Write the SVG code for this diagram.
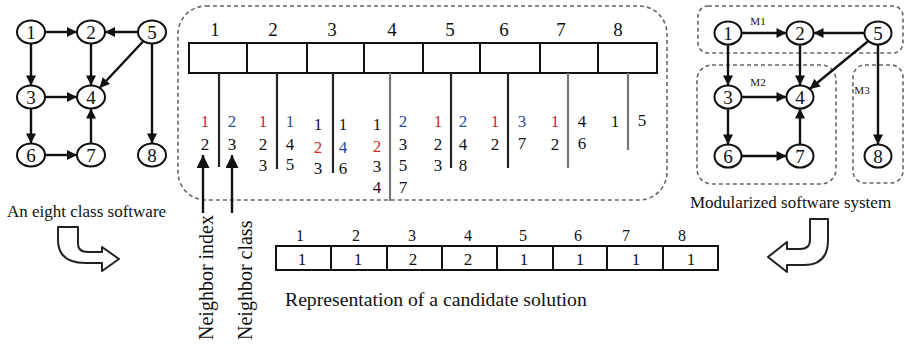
<svg xmlns="http://www.w3.org/2000/svg" width="907" height="345" viewBox="0 0 907 345">
  <style>
    text { font-family: "Liberation Serif", "Times New Roman", serif; fill: #111; }
    .node ellipse { fill: #fff; stroke: #111; stroke-width: 2; }
    .node text { font-size: 19px; text-anchor: middle; }
    .edge { stroke: #111; stroke-width: 2.4; fill: none; }
    .dash { fill: none; stroke: #666; stroke-width: 1.6; stroke-dasharray: 4 3; }
    .cell { fill: #fff; stroke: #111; stroke-width: 2; }
    .stem { stroke: #222; stroke-width: 2.2; }
    .stem2 { stroke: #777; stroke-width: 2.2; }
    .num { font-size: 17px; text-anchor: middle; }
    .hdr { font-size: 19px; text-anchor: middle; }
    .r { fill: #cc2b2b; }
    .b { fill: #2b4a9a; }
    .cap { font-size: 17px; }
    .turn { fill: #fff; stroke: #222; stroke-width: 2; stroke-linejoin: round; }
  </style>
  <defs>
    <marker id="ah" viewBox="0 0 10 10" refX="10" refY="5" markerWidth="11" markerHeight="10" markerUnits="userSpaceOnUse" orient="auto">
      <path d="M0,0 L10,5 L0,10 Z" fill="#111"/>
    </marker>
    <marker id="ahBig" viewBox="0 0 10 10" refX="10" refY="5" markerWidth="14" markerHeight="13" markerUnits="userSpaceOnUse" orient="auto">
      <path d="M0,0 L10,5 L0,10 Z" fill="#111"/>
    </marker>
  </defs>

  <!-- ===== Left: eight class software graph ===== -->
  <g id="left-edges">
    <line class="edge" x1="45" y1="32" x2="77" y2="32" marker-end="url(#ah)"/>
    <line class="edge" x1="138" y1="32" x2="105" y2="32" marker-end="url(#ah)"/>
    <line class="edge" x1="91" y1="43.5" x2="91" y2="85.5" marker-end="url(#ah)"/>
    <line class="edge" x1="31" y1="43.5" x2="31" y2="85.5" marker-end="url(#ah)"/>
    <line class="edge" x1="45" y1="97" x2="77" y2="97" marker-end="url(#ah)"/>
    <line class="edge" x1="31" y1="108.5" x2="31" y2="143.5" marker-end="url(#ah)"/>
    <line class="edge" x1="45" y1="155" x2="77" y2="155" marker-end="url(#ah)"/>
    <line class="edge" x1="91" y1="143.5" x2="91" y2="108.5" marker-end="url(#ah)"/>
    <line class="edge" x1="152" y1="43.5" x2="152" y2="143.5" marker-end="url(#ah)"/>
    <line class="edge" x1="143.5" y1="41" x2="99.5" y2="88" marker-end="url(#ah)"/>
  </g>
  <g id="left-n1" class="node"><ellipse cx="31" cy="32" rx="14" ry="11.5"/><text x="31" y="38.5">1</text></g>
  <g id="left-n2" class="node"><ellipse cx="91" cy="32" rx="14" ry="11.5"/><text x="91" y="38.5">2</text></g>
  <g id="left-n5" class="node"><ellipse cx="152" cy="32" rx="14" ry="11.5"/><text x="152" y="38.5">5</text></g>
  <g id="left-n3" class="node"><ellipse cx="31" cy="97" rx="14" ry="11.5"/><text x="31" y="103.5">3</text></g>
  <g id="left-n4" class="node"><ellipse cx="91" cy="97" rx="14" ry="11.5"/><text x="91" y="103.5">4</text></g>
  <g id="left-n6" class="node"><ellipse cx="31" cy="155" rx="14" ry="11.5"/><text x="31" y="161.5">6</text></g>
  <g id="left-n7" class="node"><ellipse cx="91" cy="155" rx="14" ry="11.5"/><text x="91" y="161.5">7</text></g>
  <g id="left-n8" class="node"><ellipse cx="152" cy="155" rx="14" ry="11.5"/><text x="152" y="161.5">8</text></g>
  <text class="cap" x="7" y="217">An eight class software</text>
  <path class="turn" d="M58,227 L78,227 L78,244 Q78,252 88,252 L102,252 L102,247 L119,259 L102,271 L102,263 L86,263 Q58,263 58,240 Z"/>

  <!-- ===== Middle: adjacency encoding ===== -->
  <g id="encoding">
    <rect class="dash" x="178" y="6" width="489" height="194" rx="28"/>
    <g id="enc-header">
      <text class="hdr" x="215" y="36">1</text>
      <text class="hdr" x="273" y="36">2</text>
      <text class="hdr" x="332" y="36">3</text>
      <text class="hdr" x="392" y="36">4</text>
      <text class="hdr" x="450" y="36">5</text>
      <text class="hdr" x="504" y="36">6</text>
      <text class="hdr" x="561" y="36">7</text>
      <text class="hdr" x="618" y="36">8</text>
    </g>
    <g id="enc-cells">
      <rect class="cell" x="189" y="43" width="58" height="30"/>
      <rect class="cell" x="247" y="43" width="60" height="30"/>
      <rect class="cell" x="307" y="43" width="57" height="30"/>
      <rect class="cell" x="364" y="43" width="59" height="30"/>
      <rect class="cell" x="423" y="43" width="57" height="30"/>
      <rect class="cell" x="480" y="43" width="60" height="30"/>
      <rect class="cell" x="540" y="43" width="58" height="30"/>
      <rect class="cell" x="598" y="43" width="59" height="30"/>
    </g>
    <g id="enc-stems">
      <line class="stem" x1="219" y1="73" x2="219" y2="167"/>
      <line class="stem" x1="277" y1="73" x2="277" y2="169"/>
      <line class="stem" x1="333" y1="73" x2="333" y2="173"/>
      <line class="stem2" x1="390" y1="73" x2="390" y2="201"/>
      <line class="stem" x1="451" y1="73" x2="451" y2="168"/>
      <line class="stem" x1="508" y1="73" x2="508" y2="168"/>
      <line class="stem2" x1="568" y1="73" x2="568" y2="168"/>
      <line class="stem2" x1="628" y1="73" x2="628" y2="150"/>
    </g>
    <g id="enc-lists">
      <!-- class 1 -->
      <text class="num r" x="205" y="127">1</text>
      <text class="num" x="205" y="150">2</text>
      <text class="num b" x="232" y="127">2</text>
      <text class="num" x="232" y="150">3</text>
      <!-- class 2 -->
      <text class="num r" x="263" y="127">1</text>
      <text class="num" x="263" y="150">2</text>
      <text class="num" x="263" y="171">3</text>
      <text class="num b" x="290" y="127">1</text>
      <text class="num" x="290" y="150">4</text>
      <text class="num" x="290" y="170">5</text>
      <!-- class 3 -->
      <text class="num" x="318" y="130">1</text>
      <text class="num r" x="318" y="153">2</text>
      <text class="num" x="318" y="174">3</text>
      <text class="num" x="343" y="130">1</text>
      <text class="num b" x="343" y="153">4</text>
      <text class="num" x="343" y="174">6</text>
      <!-- class 4 -->
      <text class="num" x="377" y="130">1</text>
      <text class="num r" x="377" y="152">2</text>
      <text class="num" x="377" y="172">3</text>
      <text class="num" x="377" y="193">4</text>
      <text class="num b" x="403" y="127">2</text>
      <text class="num" x="403" y="150">3</text>
      <text class="num" x="403" y="171">5</text>
      <text class="num" x="403" y="193">7</text>
      <!-- class 5 -->
      <text class="num r" x="438" y="127">1</text>
      <text class="num" x="438" y="150">2</text>
      <text class="num" x="438" y="171">3</text>
      <text class="num b" x="463" y="127">2</text>
      <text class="num" x="463" y="150">4</text>
      <text class="num" x="463" y="171">8</text>
      <!-- class 6 -->
      <text class="num r" x="495" y="127">1</text>
      <text class="num" x="495" y="150">2</text>
      <text class="num b" x="522" y="127">3</text>
      <text class="num" x="522" y="149">7</text>
      <!-- class 7 -->
      <text class="num r" x="555" y="127">1</text>
      <text class="num" x="555" y="150">2</text>
      <text class="num" x="582" y="127">4</text>
      <text class="num" x="582" y="149">6</text>
      <!-- class 8 -->
      <text class="num" x="615" y="127">1</text>
      <text class="num" x="642" y="126">5</text>
    </g>
  </g>

  <!-- pointers to the two lists -->
  <g id="pointers">
    <line class="edge" x1="203" y1="213" x2="203" y2="155" stroke-width="2.6" marker-end="url(#ahBig)"/>
    <line class="edge" x1="232" y1="213" x2="232" y2="155" stroke-width="2.6" marker-end="url(#ahBig)"/>
  </g>
  <text font-size="20" transform="translate(213,340) rotate(-90)">Neighbor index</text>
  <text font-size="20" transform="translate(252,340) rotate(-90)">Neighbor class</text>

  <!-- ===== Bottom: candidate solution ===== -->
  <g id="solution">
    <g font-size="16" text-anchor="middle">
      <text x="300" y="241">1</text>
      <text x="356" y="241">2</text>
      <text x="412" y="241">3</text>
      <text x="468" y="241">4</text>
      <text x="523" y="241">5</text>
      <text x="578" y="241">6</text>
      <text x="626" y="241">7</text>
      <text x="682" y="241">8</text>
    </g>
    <rect class="cell" x="276" y="246" width="55" height="24"/>
    <rect class="cell" x="331" y="246" width="56" height="24"/>
    <rect class="cell" x="387" y="246" width="55" height="24"/>
    <rect class="cell" x="442" y="246" width="55" height="24"/>
    <rect class="cell" x="497" y="246" width="56" height="24"/>
    <rect class="cell" x="553" y="246" width="54" height="24"/>
    <rect class="cell" x="607" y="246" width="56" height="24"/>
    <rect class="cell" x="663" y="246" width="55" height="24"/>
    <g font-size="17" text-anchor="middle">
      <text x="302" y="265">1</text>
      <text x="358" y="265">1</text>
      <text x="413" y="265">2</text>
      <text x="468" y="265">2</text>
      <text x="524" y="265">1</text>
      <text x="580" y="265">1</text>
      <text x="636" y="265">1</text>
      <text x="691" y="265">1</text>
    </g>
  </g>
  <text font-size="19.7" x="285" y="306">Representation of a candidate solution</text>

  <!-- ===== Right: modularized system ===== -->
  <g id="modules">
    <rect class="dash" x="698" y="6" width="205" height="47" rx="10"/>
    <rect class="dash" x="697" y="65" width="139" height="119" rx="15"/>
    <rect class="dash" x="853" y="65" width="50" height="118" rx="12"/>
    <text font-size="11" x="758" y="25" text-anchor="middle">M1</text>
    <text font-size="11" x="758" y="86" text-anchor="middle">M2</text>
    <text font-size="11" x="862" y="94" text-anchor="middle">M3</text>
  </g>
  <g id="right-edges">
    <line class="edge" x1="741.5" y1="33" x2="786.5" y2="33" marker-end="url(#ah)"/>
    <line class="edge" x1="864.5" y1="33" x2="813.5" y2="33" marker-end="url(#ah)"/>
    <line class="edge" x1="800" y1="44.5" x2="800" y2="85.5" marker-end="url(#ah)"/>
    <line class="edge" x1="728" y1="44.5" x2="728" y2="85.5" marker-end="url(#ah)"/>
    <line class="edge" x1="741.5" y1="97" x2="786.5" y2="97" marker-end="url(#ah)"/>
    <line class="edge" x1="728" y1="108.5" x2="728" y2="144.5" marker-end="url(#ah)"/>
    <line class="edge" x1="741.5" y1="156" x2="786.5" y2="156" marker-end="url(#ah)"/>
    <line class="edge" x1="800" y1="144.5" x2="800" y2="108.5" marker-end="url(#ah)"/>
    <line class="edge" x1="878" y1="44.5" x2="878" y2="144.5" marker-end="url(#ah)"/>
    <line class="edge" x1="868.3" y1="41" x2="809.7" y2="89" marker-end="url(#ah)"/>
  </g>
  <g id="right-n1" class="node"><ellipse cx="728" cy="33" rx="13.5" ry="11.5"/><text x="728" y="39.5">1</text></g>
  <g id="right-n2" class="node"><ellipse cx="800" cy="33" rx="13.5" ry="11.5"/><text x="800" y="39.5">2</text></g>
  <g id="right-n5" class="node"><ellipse cx="878" cy="33" rx="13.5" ry="11.5"/><text x="878" y="39.5">5</text></g>
  <g id="right-n3" class="node"><ellipse cx="728" cy="97" rx="13.5" ry="11.5"/><text x="728" y="103.5">3</text></g>
  <g id="right-n4" class="node"><ellipse cx="800" cy="97" rx="13.5" ry="11.5"/><text x="800" y="103.5">4</text></g>
  <g id="right-n6" class="node"><ellipse cx="728" cy="156" rx="13.5" ry="11.5"/><text x="728" y="162.5">6</text></g>
  <g id="right-n7" class="node"><ellipse cx="800" cy="156" rx="13.5" ry="11.5"/><text x="800" y="162.5">7</text></g>
  <g id="right-n8" class="node"><ellipse cx="878" cy="156" rx="13.5" ry="11.5"/><text x="878" y="162.5">8</text></g>
  <text class="cap" x="690" y="208">Modularized software system</text>
  <path class="turn" d="M828,219 L810,219 L810,240 Q810,249 800,249 L787,249 L787,242 L768,257 L787,272 L787,265 L804,265 Q828,265 828,240 Z"/>
</svg>
